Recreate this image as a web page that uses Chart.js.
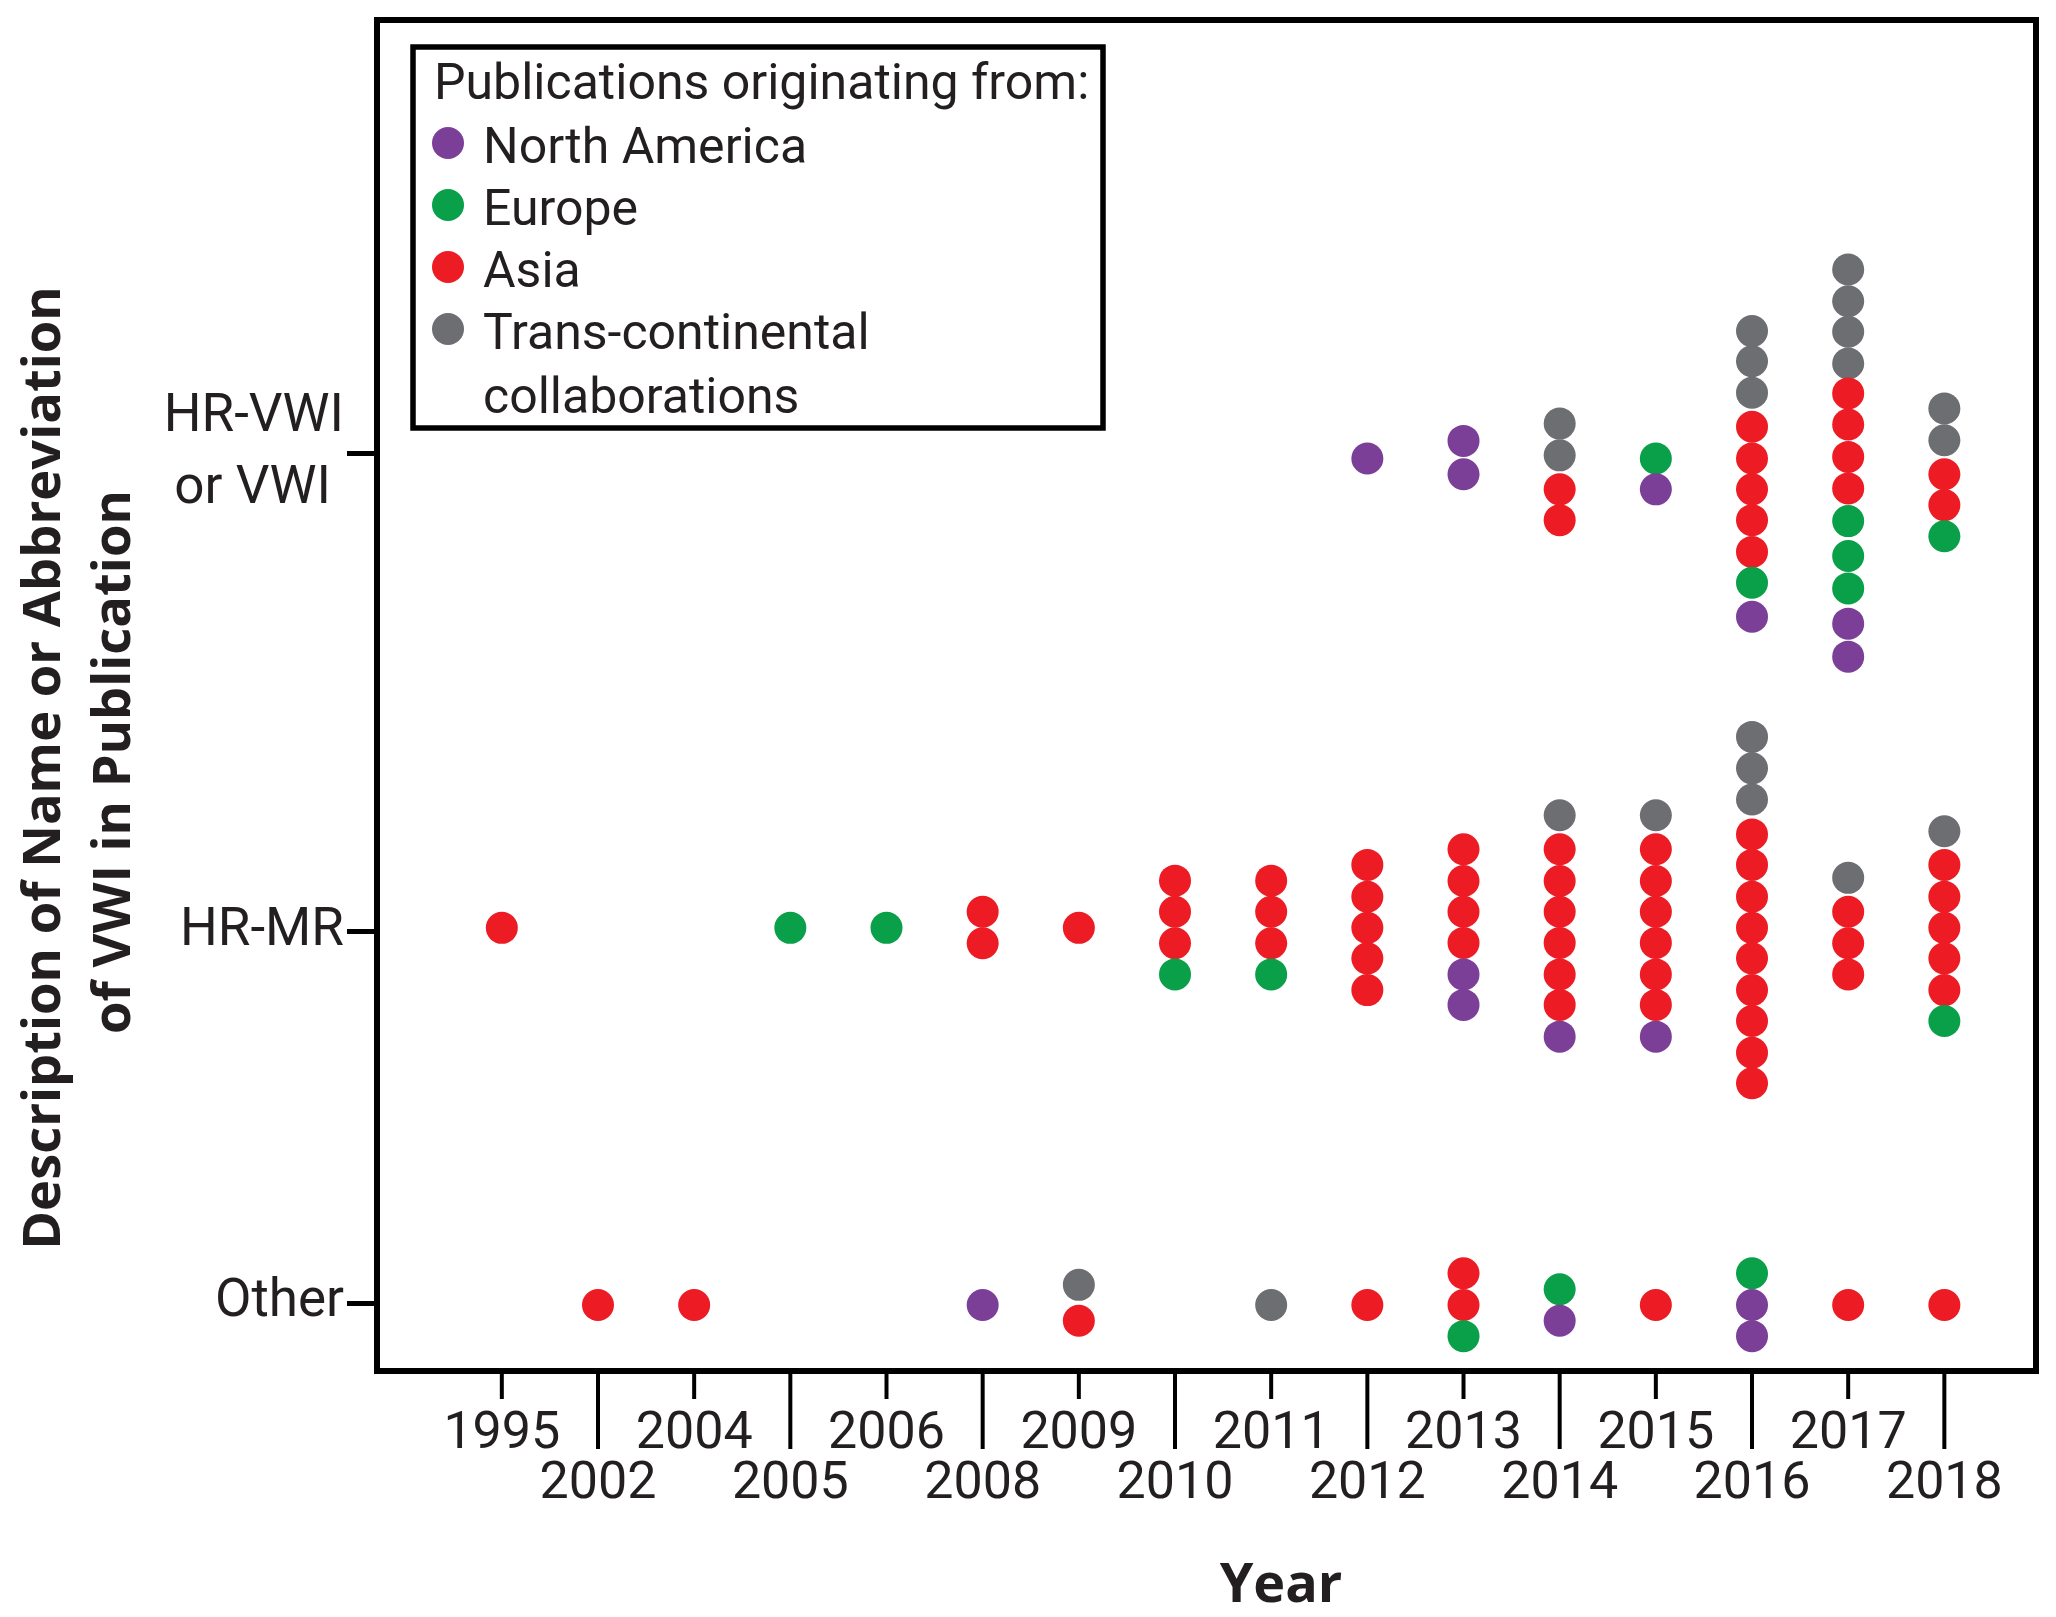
<!DOCTYPE html>
<html>
<head>
<meta charset="utf-8">
<script src="https://cdn.jsdelivr.net/npm/chart.js@4.4.1/dist/chart.umd.min.js"></script>
<style>
html, body { margin: 0; padding: 0; background: #ffffff; }
canvas { display: block; }
</style>
</head>
<body>
<canvas id="chart" width="2056" height="1617" style="width:2056px;height:1617px"></canvas>
<script>
// ---------- data ----------
const years = ['1995','2002','2004','2005','2006','2008','2009','2010','2011','2012','2013','2014','2015','2016','2017','2018'];

// category rows on the vertical axis (values in "dot rows" above the "Other" line)
const rowLabels = [['HR-VWI', 'or VWI '], 'HR-MR', 'Other'];
const rowValues = [27.0, 11.81, 0];

const seriesNames = ['North America', 'Europe', 'Asia', 'Trans-continental collaborations'];
const legendLines = [['North America'], ['Europe'], ['Asia'], ['Trans-continental', 'collaborations']];
const legendTitle = 'Publications originating from:';
const xTitle = 'Year';
const yTitle = ['Description of Name or Abbreviation', 'of VWI in Publication'];
const seriesColors = ['#7b3f98', '#0a9f49', '#ed1c24', '#6d6e71'];

// each point: [year, vertical position in dot rows]
const northAmerica = [
  [2012, 26.85], [2013, 27.41], [2013, 26.35], [2015, 25.87], [2016, 21.82], [2017, 21.60], [2017, 20.55],
  [2013, 10.45], [2013, 9.48], [2014, 8.47], [2015, 8.47],
  [2008, -0.06], [2014, -0.56], [2016, -0.06], [2016, -1.05]
];
const europe = [
  [2015, 26.85], [2016, 22.90], [2017, 24.86], [2017, 23.75], [2017, 22.72], [2018, 24.38],
  [2005, 11.93], [2006, 11.93], [2010, 10.45], [2011, 10.45], [2018, 8.97],
  [2013, -1.05], [2014, 0.44], [2016, 0.95]
];
const asia = [
  [2014, 25.87], [2014, 24.89],
  [2016, 27.86], [2016, 26.85], [2016, 25.87], [2016, 24.89], [2016, 23.88],
  [2017, 28.92], [2017, 27.93], [2017, 26.90], [2017, 25.90],
  [2018, 26.35], [2018, 25.37],
  [1995, 11.93], [2008, 12.44], [2008, 11.44], [2009, 11.93],
  [2010, 13.43], [2010, 12.44], [2010, 11.44],
  [2011, 13.43], [2011, 12.44], [2011, 11.44],
  [2012, 13.93], [2012, 12.92], [2012, 11.93], [2012, 10.96], [2012, 9.95],
  [2013, 14.43], [2013, 13.42], [2013, 12.44], [2013, 11.45],
  [2014, 14.43], [2014, 13.42], [2014, 12.44], [2014, 11.45], [2014, 10.45], [2014, 9.48],
  [2015, 14.43], [2015, 13.42], [2015, 12.44], [2015, 11.45], [2015, 10.45], [2015, 9.48],
  [2016, 14.90], [2016, 13.93], [2016, 12.92], [2016, 11.93], [2016, 10.96], [2016, 9.95], [2016, 8.97], [2016, 7.96], [2016, 6.99],
  [2017, 12.44], [2017, 11.44], [2017, 10.45],
  [2018, 13.93], [2018, 12.92], [2018, 11.93], [2018, 10.96], [2018, 9.95],
  [2002, -0.06], [2004, -0.06], [2009, -0.56], [2012, -0.06], [2013, 0.95], [2013, -0.06],
  [2015, -0.06], [2017, -0.06], [2018, -0.06]
];
const transContinental = [
  [2014, 27.96], [2014, 26.95],
  [2016, 30.90], [2016, 29.94], [2016, 28.94],
  [2017, 32.86], [2017, 31.85], [2017, 30.88], [2017, 29.87],
  [2018, 28.44], [2018, 27.43],
  [2014, 15.51], [2015, 15.51], [2016, 18.00], [2016, 17.00], [2016, 16.01], [2017, 13.52], [2018, 15.00],
  [2009, 0.58], [2011, -0.06]
];
const seriesData = [northAmerica, europe, asia, transContinental];

// ---------- chart ----------
const TEXT = '#231f20';
const toPoints = arr => arr.map(([yr, v]) => ({ x: years.indexOf(String(yr)), y: v }));

const decor = {
  id: 'decor',
  afterDraw(chart) {
    const { ctx, chartArea: a, scales: { x } } = chart;
    ctx.save();
    // plot frame
    ctx.strokeStyle = '#000';
    ctx.lineWidth = 6;
    ctx.strokeRect(a.left, a.top, a.right - a.left, a.bottom - a.top);
    // staggered x tick marks
    ctx.lineWidth = 4;
    x.ticks.forEach((t, i) => {
      const px = x.getPixelForValue(t.value);
      const len = i % 2 === 0 ? 28 : 78;
      ctx.beginPath();
      ctx.moveTo(px, a.bottom);
      ctx.lineTo(px, a.bottom + len);
      ctx.stroke();
    });

    // legend box
    ctx.lineWidth = 5.5;
    ctx.strokeRect(413, 47, 690, 381);
    ctx.fillStyle = TEXT;
    ctx.font = '50px Roboto';
    ctx.textAlign = 'left';
    ctx.textBaseline = 'alphabetic';
    ctx.fillText(legendTitle, 434, 99);
    chart.data.datasets.forEach((ds, i) => {
      const cy = 143 + i * 62;
      ctx.beginPath();
      ctx.fillStyle = ds.backgroundColor;
      ctx.arc(448, cy, 16, 0, Math.PI * 2);
      ctx.fill();
      ctx.fillStyle = TEXT;
      legendLines[i].forEach((line, j) => {
        ctx.fillText(line, 483, cy + 20 + j * 64);
      });
    });

    // axis titles
    ctx.fillStyle = TEXT;
    ctx.font = 'bold 54px "Open Sans"';
    ctx.textAlign = 'center';
    ctx.fillText(xTitle, 1281, 1602);

    ctx.font = 'bold 52.5px "Open Sans"';
    ctx.translate(0, 768);
    ctx.rotate(-Math.PI / 2);
    ctx.fillText(yTitle[0], 0, 60);
    ctx.fillText(yTitle[1], 6, 130);
    ctx.restore();
  }
};

function build() {
  new Chart(document.getElementById('chart'), {
    type: 'scatter',
    data: {
      datasets: seriesData.map((arr, i) => ({
        label: seriesNames[i],
        data: toPoints(arr),
        backgroundColor: seriesColors[i],
        borderWidth: 0,
        pointRadius: 16,
        pointHoverRadius: 16,
        pointStyle: 'circle'
      }))
    },
    options: {
      responsive: false,
      animation: false,
      devicePixelRatio: 1,
      layout: { padding: { left: 0, right: 20, top: 20, bottom: 0 } },
      plugins: { legend: { display: false }, tooltip: { enabled: false } },
      scales: {
        x: {
          type: 'linear',
          min: -1.298,
          max: 15.953,
          afterBuildTicks: s => { s.ticks = years.map((_, i) => ({ value: i })); },
          afterFit: s => { s.height = 246; s.paddingLeft = 0; s.paddingRight = 0; },
          grid: { display: false },
          border: { display: false },
          ticks: {
            autoSkip: false,
            maxRotation: 0,
            minRotation: 0,
            padding: 31,
            color: TEXT,
            font: { family: 'Roboto', size: 52, lineHeight: 50 / 52 },
            callback: v => (v % 2 === 0 ? years[v] : ['', years[v]])
          }
        },
        y: {
          type: 'linear',
          min: -2.158,
          max: 40.79,
          afterBuildTicks: s => { s.ticks = rowValues.slice().sort((p, q) => p - q).map(v => ({ value: v })); },
          afterFit: s => { s.width = 377; s.paddingTop = 0; s.paddingBottom = 0; },
          grid: { display: true, drawOnChartArea: false, drawTicks: true, tickLength: 30, color: '#000', lineWidth: 5 },
          border: { display: false },
          ticks: {
            padding: 3,
            color: TEXT,
            font: { family: 'Roboto', size: 53, lineHeight: 72 / 53 },
            callback: v => rowLabels[rowValues.indexOf(v)]
          }
        }
      }
    },
    plugins: [decor]
  });
}

if (document.fonts && document.fonts.load) {
  Promise.all([
    document.fonts.load('50px Roboto'),
    document.fonts.load('bold 54px "Open Sans"')
  ]).catch(() => {}).finally(build);
} else {
  build();
}
</script>
</body>
</html>
